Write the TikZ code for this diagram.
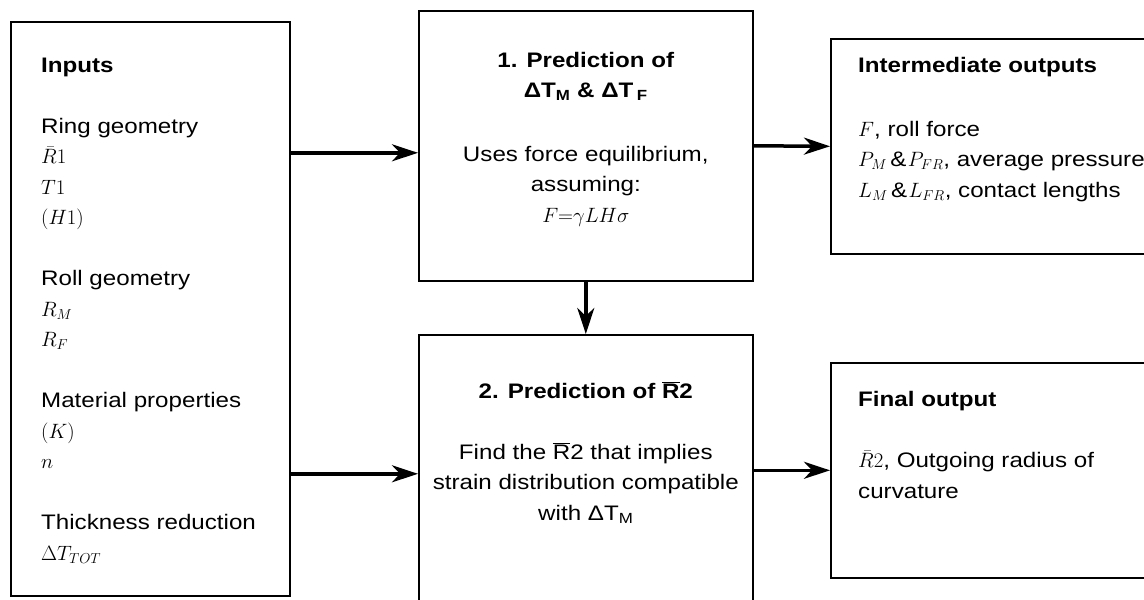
\documentclass[tikz,border=0pt]{standalone}
\usepackage{fontspec}
\setmainfont{Liberation Sans}[FakeStretch=1.15]
\usetikzlibrary{arrows.meta}
\newcommand{\barR}{\ensuremath{\overline{\mbox{R}}}}

\begin{document}
\begin{tikzpicture}[x=1pt,y=1pt,
  box/.style={draw,line width=1.6pt,anchor=north west,inner sep=0pt},
  txt/.style={inner sep=0pt,font=\fontsize{21}{30.5}\selectfont},
  flow/.style={line width=3.5pt,-{Stealth[length=26pt,width=17pt,inset=8pt]}}]
\useasboundingbox (0,0) rectangle (1144,-600);
\clip (0,0) rectangle (1144,-600);
\node[box,minimum width=279pt,minimum height=574pt] (inputs) at (10,-21) {};
\node[box,minimum width=334pt,minimum height=270pt] (pred1) at (418,-10) {};
\node[box,minimum width=334pt,minimum height=278pt] (pred2) at (418,-334) {};
\node[box,minimum width=330pt,minimum height=215pt] (inter) at (830,-38) {};
\node[box,minimum width=330pt,minimum height=215pt] (final) at (830,-362) {};

\node[txt,align=left,anchor=base west] (inputstext) at ([shift={(31,-539)}]inputs.north west)
  {\textbf{Inputs}\\[30.5pt] Ring geometry\\ $\bar{R}1$\\ $T1$\\ $(H1)$\\[30.5pt]
   Roll geometry\\ $R_M$\\ $R_F$\\[30.5pt] Material properties\\ $(K)$\\ $n$\\[30.5pt]
   Thickness reduction\\ $\Delta T_{TOT}$};
\node[txt,align=center,anchor=base] (pred1text) at ([yshift=-212pt]pred1.north)
  {\textbf{1. Prediction of}\\ \textbf{ΔT\textsubscript{M} \& ΔT\,\textsubscript{F}}\\[33pt]
   Uses force equilibrium,\\ assuming:\\ $F{=}\gamma LH\sigma$};
\node[txt,align=center,anchor=base] (pred2text) at ([yshift=-186pt]pred2.north)
  {\textbf{2. Prediction of \barR2}\\[30.5pt] Find the \barR2 that implies\\
   strain distribution compatible\\ with ΔT\textsubscript{M}};
\node[txt,align=left,anchor=base west] (intertext) at ([shift={(28,-159)}]inter.north west)
  {\textbf{Intermediate outputs}\\[33pt] $F$, roll force\\ $P_M\,\&\,P_{FR}$, average pressure\\
   $L_M\,\&\,L_{FR}$, contact lengths};
\node[txt,align=left,anchor=base west] (finaltext) at ([shift={(28,-136)}]final.north west)
  {\textbf{Final output}\\[30.5pt] $\bar{R}2$, Outgoing radius of\\ curvature};

\draw[flow] ([yshift=-7pt]inputs.east |- pred1.west) -- ([yshift=-7pt]pred1.west);
\draw[flow] (inputs.east |- pred2.west) -- (pred2.west);
\draw[flow] (pred1.east) -- (inter.west);
\draw[flow] (pred1.south) -- (pred2.north);
\draw[flow] (pred2.east |- final.west) -- (final.west);
\end{tikzpicture}
\end{document}
